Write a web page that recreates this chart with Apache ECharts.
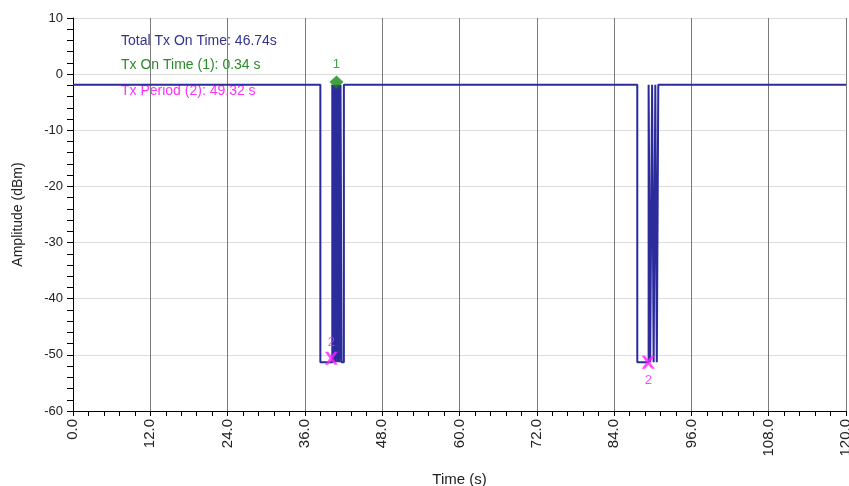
<!DOCTYPE html>
<html><head><meta charset="utf-8">
<script src="https://cdn.jsdelivr.net/npm/echarts@6/dist/echarts.min.js"></script>
<style>html,body{margin:0;padding:0;background:#fff}#c{width:849px;height:486px}</style>
</head><body><div id="c"></div>
<script>
// Trace: time (s) and amplitude (dBm); repeated times give vertical edges
var traceTimes = [0, 38.4, 38.4, 40.25, 40.25, 40.41, 40.41, 40.57, 40.57, 40.73, 40.73, 40.89, 40.89,
  41.05, 41.05, 41.21, 41.21, 41.37, 41.37, 41.53, 41.53, 41.69, 41.69, 42.05, 42.05,
  87.6, 87.6, 89.36, 89.36, 89.6, 89.6, 89.9, 89.9, 90.14, 90.14, 90.4, 90.4, 90.63, 90.63, 90.86, 90.86, 120];
var traceAmps = [-1.9, -1.9, -51.3, -51.3, -1.9, -1.9, -51.3, -51.3, -1.9, -1.9, -51.3, -51.3, -1.9,
  -1.9, -51.3, -51.3, -1.9, -1.9, -51.3, -51.3, -1.9, -1.9, -51.3, -51.3, -1.9,
  -1.9, -51.3, -51.3, -1.9, -1.9, -51.3, -51.3, -1.9, -1.9, -51.3, -51.3, -1.9, -1.9, -51.3, -51.3, -1.9, -1.9];
// Markers
var marker1 = [40.9, -1.4];
var marker2Times = [40.1, 89.3];
var marker2Amps = [-50.6, -51.3];
// Annotations
var annotations = ['Total Tx On Time: 46.74s', 'Tx On Time (1): 0.34 s', 'Tx Period (2): 49.32 s'];
var xTicks = {min: 0, max: 120, step: 12};
var yTicks = {min: -60, max: 10, step: 10};

var trace = traceTimes.map(function (t, i) { return [t, traceAmps[i]]; });
var m2 = marker2Times.map(function (t, i) { return [t, marker2Amps[i]]; });
var FONT = 'Liberation Sans';
var crossPath = 'path://M0,0 L2.5,0 L5,3 L7.5,0 L10,0 L6.4,5 L10,10 L7.5,10 L5,7 L2.5,10 L0,10 L3.6,5 Z';

var chart = echarts.init(document.getElementById('c'));
chart.setOption({
  animation: false,
  backgroundColor: '#fff',
  textStyle: {fontFamily: FONT},
  grid: {left: 73, right: 3, top: 18, bottom: 75, containLabel: false, outerBoundsMode: 'none'},
  xAxis: {
    type: 'value', min: xTicks.min, max: xTicks.max, interval: xTicks.step,
    name: 'Time (s)', nameLocation: 'middle', nameGap: 61,
    nameTextStyle: {color: '#222', fontSize: 15, fontFamily: FONT},
    axisLine: {onZero: false, lineStyle: {color: '#000', width: 1}},
    axisTick: {show: true, length: 5, lineStyle: {color: '#000'}},
    minorTick: {show: true, splitNumber: 5, length: 5, lineStyle: {color: '#000'}},
    axisLabel: {rotate: 90, color: '#222', fontSize: 15, margin: 8, fontFamily: FONT,
      formatter: function (v) { return v.toFixed(1); }},
    splitLine: {show: true, lineStyle: {color: '#7a7a7a', width: 1}}
  },
  yAxis: {
    type: 'value', min: yTicks.min, max: yTicks.max, interval: yTicks.step,
    name: 'Amplitude (dBm)', nameLocation: 'middle', nameGap: 48,
    nameTextStyle: {color: '#222', fontSize: 14, fontFamily: FONT},
    axisLine: {show: true, onZero: false, lineStyle: {color: '#000', width: 1}},
    axisTick: {show: true, length: 6, lineStyle: {color: '#000'}},
    minorTick: {show: true, splitNumber: 5, length: 6, lineStyle: {color: '#000'}},
    axisLabel: {color: '#222', fontSize: 13, margin: 10, fontFamily: FONT},
    splitLine: {show: true, lineStyle: {color: '#dcdcdc', width: 1}}
  },
  graphic: [
    {type: 'text', x: 121, y: 41, style: {text: annotations[0], fill: '#33338f', font: '14px ' + FONT, verticalAlign: 'middle'}},
    {type: 'text', x: 121, y: 65, style: {text: annotations[1], fill: '#2a8a2a', font: '14px ' + FONT, verticalAlign: 'middle'}},
    {type: 'text', x: 121, y: 91, style: {text: annotations[2], fill: '#ff33ff', font: '14px ' + FONT, verticalAlign: 'middle'}}
  ],
  series: [
    {type: 'line', data: trace, showSymbol: false, symbol: 'none',
      lineStyle: {color: '#2b2b9c', width: 2}, z: 3},
    {type: 'scatter', data: [marker1], symbol: 'diamond', symbolSize: [14, 13],
      itemStyle: {color: '#138a13'}, z: 5,
      label: {show: true, position: 'top', distance: 5, formatter: '1', color: '#138a13', fontSize: 13, fontFamily: FONT}},
    {type: 'scatter', data: [m2[0]], symbol: crossPath, symbolSize: [13, 13],
      itemStyle: {color: '#ff22ff'}, z: 5,
      label: {show: true, position: 'top', distance: 3, formatter: '2', color: '#ff22ff', fontSize: 13, fontFamily: FONT}},
    {type: 'scatter', data: [m2[1]], symbol: crossPath, symbolSize: [13, 13],
      itemStyle: {color: '#ff22ff'}, z: 5,
      label: {show: true, position: 'bottom', distance: 5, formatter: '2', color: '#ff22ff', fontSize: 13, fontFamily: FONT}}
  ]
});
</script>
</body></html>
